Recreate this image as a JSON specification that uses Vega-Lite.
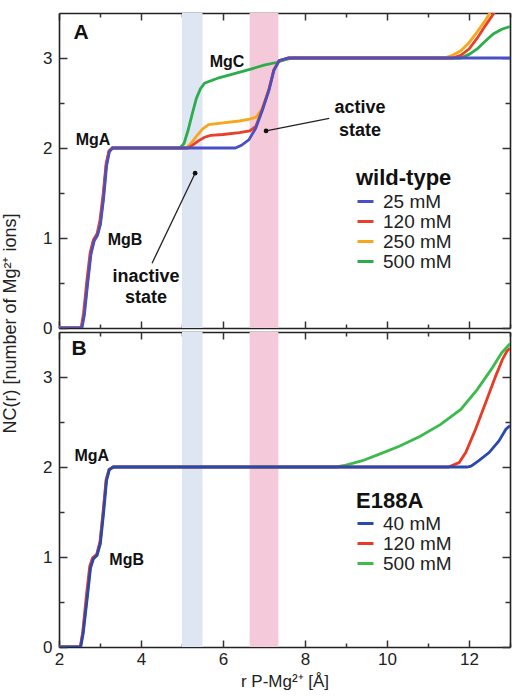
{
  "$schema": "https://vega.github.io/schema/vega-lite/v6.json",
  "background": "white",
  "padding": {"left": 1, "top": 12, "right": 1, "bottom": 2},
  "bounds": "flush",
  "config": {
    "font": "Liberation Sans",
    "view": {"stroke": null},
    "axis": {"grid": false, "domain": false, "labelFont": "Liberation Sans", "labelFontSize": 17, "labelColor": "#222", "titleFont": "Liberation Sans", "titleFontSize": 17, "titleFontWeight": "normal", "titleColor": "#222", "tickColor": "#333", "tickWidth": 1.5, "domainColor": "#222", "domainWidth": 1.6, "labelFlush": false, "labelOverlap": false, "zindex": 1},
    "legend": {"labelFont": "Liberation Sans", "titleFont": "Liberation Sans", "labelColor": "#222", "titleColor": "#111", "padding": 0},
    "text": {"font": "Liberation Sans", "fontWeight": "bold", "color": "#111"}
  },
  "datasets": {
    "bands": [
      {"state": "inactive", "r": 5.0, "r2": 5.5},
      {"state": "active", "r": 6.65, "r2": 7.35}
    ],
    "wt": [
      {"s": "500 mM", "r": 2.0, "nc": 0}, {"s": "500 mM", "r": 2.55, "nc": 0}, {"s": "500 mM", "r": 2.61, "nc": 0.15}, {"s": "500 mM", "r": 2.69, "nc": 0.5}, {"s": "500 mM", "r": 2.77, "nc": 0.82}, {"s": "500 mM", "r": 2.84, "nc": 0.97}, {"s": "500 mM", "r": 2.93, "nc": 1.03}, {"s": "500 mM", "r": 3.0, "nc": 1.15}, {"s": "500 mM", "r": 3.08, "nc": 1.45}, {"s": "500 mM", "r": 3.15, "nc": 1.8}, {"s": "500 mM", "r": 3.22, "nc": 1.96}, {"s": "500 mM", "r": 3.3, "nc": 2.0},
      {"s": "500 mM", "r": 4.95, "nc": 2.0}, {"s": "500 mM", "r": 5.05, "nc": 2.05}, {"s": "500 mM", "r": 5.15, "nc": 2.2}, {"s": "500 mM", "r": 5.25, "nc": 2.38}, {"s": "500 mM", "r": 5.35, "nc": 2.55}, {"s": "500 mM", "r": 5.45, "nc": 2.66}, {"s": "500 mM", "r": 5.55, "nc": 2.72}, {"s": "500 mM", "r": 5.9, "nc": 2.78}, {"s": "500 mM", "r": 6.3, "nc": 2.83}, {"s": "500 mM", "r": 6.7, "nc": 2.88}, {"s": "500 mM", "r": 7.0, "nc": 2.92}, {"s": "500 mM", "r": 7.3, "nc": 2.95}, {"s": "500 mM", "r": 7.5, "nc": 2.98}, {"s": "500 mM", "r": 7.7, "nc": 3.0}, {"s": "500 mM", "r": 11.8, "nc": 3.0}, {"s": "500 mM", "r": 12.0, "nc": 3.04}, {"s": "500 mM", "r": 12.2, "nc": 3.1}, {"s": "500 mM", "r": 12.4, "nc": 3.19}, {"s": "500 mM", "r": 12.6, "nc": 3.27}, {"s": "500 mM", "r": 12.8, "nc": 3.32}, {"s": "500 mM", "r": 13.0, "nc": 3.35},
      {"s": "250 mM", "r": 2.0, "nc": 0}, {"s": "250 mM", "r": 2.55, "nc": 0}, {"s": "250 mM", "r": 2.61, "nc": 0.15}, {"s": "250 mM", "r": 2.69, "nc": 0.5}, {"s": "250 mM", "r": 2.77, "nc": 0.82}, {"s": "250 mM", "r": 2.84, "nc": 0.97}, {"s": "250 mM", "r": 2.93, "nc": 1.03}, {"s": "250 mM", "r": 3.0, "nc": 1.15}, {"s": "250 mM", "r": 3.08, "nc": 1.45}, {"s": "250 mM", "r": 3.15, "nc": 1.8}, {"s": "250 mM", "r": 3.22, "nc": 1.96}, {"s": "250 mM", "r": 3.3, "nc": 2.0},
      {"s": "250 mM", "r": 5.1, "nc": 2.0}, {"s": "250 mM", "r": 5.2, "nc": 2.04}, {"s": "250 mM", "r": 5.35, "nc": 2.13}, {"s": "250 mM", "r": 5.5, "nc": 2.21}, {"s": "250 mM", "r": 5.65, "nc": 2.26}, {"s": "250 mM", "r": 6.0, "nc": 2.28}, {"s": "250 mM", "r": 6.4, "nc": 2.3}, {"s": "250 mM", "r": 6.65, "nc": 2.32}, {"s": "250 mM", "r": 6.8, "nc": 2.34}, {"s": "250 mM", "r": 6.9, "nc": 2.4}, {"s": "250 mM", "r": 6.96, "nc": 2.44}, {"s": "250 mM", "r": 7.12, "nc": 2.65}, {"s": "250 mM", "r": 7.24, "nc": 2.87}, {"s": "250 mM", "r": 7.37, "nc": 2.97}, {"s": "250 mM", "r": 7.6, "nc": 3.0}, {"s": "250 mM", "r": 11.4, "nc": 3.0}, {"s": "250 mM", "r": 11.6, "nc": 3.03}, {"s": "250 mM", "r": 11.8, "nc": 3.08}, {"s": "250 mM", "r": 12.0, "nc": 3.17}, {"s": "250 mM", "r": 12.2, "nc": 3.29}, {"s": "250 mM", "r": 12.4, "nc": 3.42}, {"s": "250 mM", "r": 12.55, "nc": 3.53}, {"s": "250 mM", "r": 12.65, "nc": 3.6},
      {"s": "120 mM", "r": 2.0, "nc": 0}, {"s": "120 mM", "r": 2.54, "nc": 0}, {"s": "120 mM", "r": 2.6, "nc": 0.17}, {"s": "120 mM", "r": 2.68, "nc": 0.53}, {"s": "120 mM", "r": 2.76, "nc": 0.84}, {"s": "120 mM", "r": 2.84, "nc": 0.98}, {"s": "120 mM", "r": 2.93, "nc": 1.05}, {"s": "120 mM", "r": 3.0, "nc": 1.2}, {"s": "120 mM", "r": 3.08, "nc": 1.5}, {"s": "120 mM", "r": 3.15, "nc": 1.83}, {"s": "120 mM", "r": 3.22, "nc": 1.97}, {"s": "120 mM", "r": 3.3, "nc": 2.0},
      {"s": "120 mM", "r": 5.15, "nc": 2.0}, {"s": "120 mM", "r": 5.25, "nc": 2.03}, {"s": "120 mM", "r": 5.4, "nc": 2.08}, {"s": "120 mM", "r": 5.55, "nc": 2.12}, {"s": "120 mM", "r": 5.7, "nc": 2.14}, {"s": "120 mM", "r": 6.0, "nc": 2.15}, {"s": "120 mM", "r": 6.4, "nc": 2.17}, {"s": "120 mM", "r": 6.65, "nc": 2.19}, {"s": "120 mM", "r": 6.8, "nc": 2.24}, {"s": "120 mM", "r": 6.96, "nc": 2.43}, {"s": "120 mM", "r": 7.12, "nc": 2.65}, {"s": "120 mM", "r": 7.24, "nc": 2.87}, {"s": "120 mM", "r": 7.37, "nc": 2.97}, {"s": "120 mM", "r": 7.6, "nc": 3.0}, {"s": "120 mM", "r": 11.6, "nc": 3.0}, {"s": "120 mM", "r": 11.8, "nc": 3.03}, {"s": "120 mM", "r": 12.0, "nc": 3.1}, {"s": "120 mM", "r": 12.2, "nc": 3.22}, {"s": "120 mM", "r": 12.4, "nc": 3.36}, {"s": "120 mM", "r": 12.55, "nc": 3.46}, {"s": "120 mM", "r": 12.7, "nc": 3.56},
      {"s": "25 mM", "r": 2.0, "nc": 0}, {"s": "25 mM", "r": 2.56, "nc": 0}, {"s": "25 mM", "r": 2.62, "nc": 0.15}, {"s": "25 mM", "r": 2.7, "nc": 0.5}, {"s": "25 mM", "r": 2.78, "nc": 0.82}, {"s": "25 mM", "r": 2.86, "nc": 0.97}, {"s": "25 mM", "r": 2.94, "nc": 1.03}, {"s": "25 mM", "r": 3.01, "nc": 1.15}, {"s": "25 mM", "r": 3.09, "nc": 1.45}, {"s": "25 mM", "r": 3.16, "nc": 1.8}, {"s": "25 mM", "r": 3.23, "nc": 1.96}, {"s": "25 mM", "r": 3.31, "nc": 2.0},
      {"s": "25 mM", "r": 6.3, "nc": 2.0}, {"s": "25 mM", "r": 6.45, "nc": 2.03}, {"s": "25 mM", "r": 6.63, "nc": 2.09}, {"s": "25 mM", "r": 6.8, "nc": 2.22}, {"s": "25 mM", "r": 6.96, "nc": 2.42}, {"s": "25 mM", "r": 7.12, "nc": 2.64}, {"s": "25 mM", "r": 7.24, "nc": 2.86}, {"s": "25 mM", "r": 7.37, "nc": 2.97}, {"s": "25 mM", "r": 7.6, "nc": 3.0}, {"s": "25 mM", "r": 13.0, "nc": 3.0}
    ],
    "mut": [
      {"s": "500 mM", "r": 2.0, "nc": 0}, {"s": "500 mM", "r": 2.52, "nc": 0}, {"s": "500 mM", "r": 2.58, "nc": 0.15}, {"s": "500 mM", "r": 2.68, "nc": 0.55}, {"s": "500 mM", "r": 2.76, "nc": 0.88}, {"s": "500 mM", "r": 2.83, "nc": 0.98}, {"s": "500 mM", "r": 2.92, "nc": 1.02}, {"s": "500 mM", "r": 3.0, "nc": 1.15}, {"s": "500 mM", "r": 3.08, "nc": 1.5}, {"s": "500 mM", "r": 3.15, "nc": 1.85}, {"s": "500 mM", "r": 3.22, "nc": 1.97}, {"s": "500 mM", "r": 3.32, "nc": 2.0},
      {"s": "500 mM", "r": 8.76, "nc": 2.0}, {"s": "500 mM", "r": 9.0, "nc": 2.02}, {"s": "500 mM", "r": 9.4, "nc": 2.07}, {"s": "500 mM", "r": 9.8, "nc": 2.14}, {"s": "500 mM", "r": 10.3, "nc": 2.23}, {"s": "500 mM", "r": 10.8, "nc": 2.34}, {"s": "500 mM", "r": 11.3, "nc": 2.47}, {"s": "500 mM", "r": 11.8, "nc": 2.64}, {"s": "500 mM", "r": 12.2, "nc": 2.86}, {"s": "500 mM", "r": 12.55, "nc": 3.09}, {"s": "500 mM", "r": 12.8, "nc": 3.27}, {"s": "500 mM", "r": 13.0, "nc": 3.37},
      {"s": "120 mM", "r": 2.0, "nc": 0}, {"s": "120 mM", "r": 2.52, "nc": 0}, {"s": "120 mM", "r": 2.58, "nc": 0.17}, {"s": "120 mM", "r": 2.67, "nc": 0.58}, {"s": "120 mM", "r": 2.75, "nc": 0.9}, {"s": "120 mM", "r": 2.82, "nc": 0.99}, {"s": "120 mM", "r": 2.92, "nc": 1.03}, {"s": "120 mM", "r": 3.0, "nc": 1.17}, {"s": "120 mM", "r": 3.08, "nc": 1.52}, {"s": "120 mM", "r": 3.15, "nc": 1.86}, {"s": "120 mM", "r": 3.22, "nc": 1.97}, {"s": "120 mM", "r": 3.32, "nc": 2.0},
      {"s": "120 mM", "r": 11.5, "nc": 2.0}, {"s": "120 mM", "r": 11.76, "nc": 2.05}, {"s": "120 mM", "r": 11.92, "nc": 2.16}, {"s": "120 mM", "r": 12.16, "nc": 2.42}, {"s": "120 mM", "r": 12.41, "nc": 2.72}, {"s": "120 mM", "r": 12.65, "nc": 3.01}, {"s": "120 mM", "r": 12.82, "nc": 3.2}, {"s": "120 mM", "r": 12.93, "nc": 3.29}, {"s": "120 mM", "r": 13.0, "nc": 3.32},
      {"s": "40 mM", "r": 2.0, "nc": 0}, {"s": "40 mM", "r": 2.53, "nc": 0}, {"s": "40 mM", "r": 2.59, "nc": 0.15}, {"s": "40 mM", "r": 2.69, "nc": 0.55}, {"s": "40 mM", "r": 2.77, "nc": 0.88}, {"s": "40 mM", "r": 2.84, "nc": 0.98}, {"s": "40 mM", "r": 2.93, "nc": 1.02}, {"s": "40 mM", "r": 3.01, "nc": 1.15}, {"s": "40 mM", "r": 3.09, "nc": 1.5}, {"s": "40 mM", "r": 3.16, "nc": 1.85}, {"s": "40 mM", "r": 3.23, "nc": 1.97}, {"s": "40 mM", "r": 3.33, "nc": 2.0},
      {"s": "40 mM", "r": 11.95, "nc": 2.0}, {"s": "40 mM", "r": 12.05, "nc": 2.01}, {"s": "40 mM", "r": 12.24, "nc": 2.07}, {"s": "40 mM", "r": 12.49, "nc": 2.16}, {"s": "40 mM", "r": 12.73, "nc": 2.29}, {"s": "40 mM", "r": 12.9, "nc": 2.42}, {"s": "40 mM", "r": 13.0, "nc": 2.46}
    ],
    "letterA": [{"r": 2.54, "nc": 3.28, "t": "A"}],
    "letterB": [{"r": 2.49, "nc": 3.31, "t": "B"}],
    "mgA": [{"r": 2.83, "nc": 2.09, "t": "MgA"}, {"r": 3.61, "nc": 0.98, "t": "MgB"}, {"r": 6.1, "nc": 2.96, "t": "MgC"}],
    "mgB": [{"r": 2.8, "nc": 2.12, "t": "MgA"}, {"r": 3.65, "nc": 0.97, "t": "MgB"}],
    "states": [{"r": 4.12, "nc": 0.57, "t": "inactive"}, {"r": 4.12, "nc": 0.33, "t": "state"}, {"r": 9.34, "nc": 2.44, "t": "active"}, {"r": 9.34, "nc": 2.19, "t": "state"}],
    "arrows": [{"r": 4.27, "nc": 0.72, "r2": 5.32, "nc2": 1.72}, {"r": 8.59, "nc": 2.33, "r2": 7.05, "nc2": 2.19}]
  },
  "spacing": 4,
  "resolve": {"scale": {"color": "independent"}},
  "vconcat": [
    {
      "width": 451,
      "height": 315,
      "resolve": {"axis": {"x": "independent", "y": "independent"}},
      "layer": [
        {
          "data": {"name": "bands"},
          "transform": [{"filter": "datum.state == 'inactive'"}],
          "mark": {"type": "rect", "color": "#dfe6f3"},
          "encoding": {
            "x": {"field": "r", "type": "quantitative", "scale": {"domain": [2, 13], "nice": false, "zero": false}, "axis": {"orient": "bottom", "labels": false, "ticks": false, "domain": true, "title": null}},
            "x2": {"field": "r2"},
            "y": {"datum": 0, "type": "quantitative", "scale": {"domain": [0, 3.5], "nice": false, "zero": false}, "axis": {"orient": "left", "values": [0, 1, 2, 3], "ticks": false, "domain": true, "labelPadding": 7, "title": "NC(r) [number of Mg²⁺ ions]", "titleFontSize": 18, "titleX": -40, "titleY": 310, "titleAlign": "center", "titleBaseline": "bottom", "titleAngle": -90}},
            "y2": {"datum": 3.5}
          }
        },
        {
          "data": {"name": "bands"},
          "transform": [{"filter": "datum.state == 'active'"}],
          "mark": {"type": "rect", "color": "#f4c9d9"},
          "encoding": {
            "x": {"field": "r", "type": "quantitative", "axis": {"orient": "bottom", "values": [2, 4, 6, 8, 10, 12], "labels": false, "tickSize": 7, "offset": -7, "title": null}},
            "x2": {"field": "r2"},
            "y": {"datum": 0, "type": "quantitative", "axis": {"orient": "left", "values": [0, 1, 2, 3], "labels": false, "tickSize": 8, "offset": -8, "title": null}},
            "y2": {"datum": 3.5}
          }
        },
        {
          "data": {"name": "wt"},
          "mark": {"type": "line", "strokeWidth": 2.8, "clip": true},
          "encoding": {
            "x": {"field": "r", "type": "quantitative", "axis": {"orient": "bottom", "values": [3, 5, 7, 9, 11, 13], "labels": false, "tickSize": 4, "offset": -4, "title": null}},
            "y": {"field": "nc", "type": "quantitative", "axis": {"orient": "left", "values": [0.5, 1.5, 2.5], "labels": false, "tickSize": 5, "offset": -5, "title": null}},
            "color": {"field": "s", "type": "nominal", "scale": {"domain": ["25 mM", "120 mM", "250 mM", "500 mM"], "range": ["#4b4fc4", "#e8402a", "#f6a81c", "#2aad4a"]}, "legend": {"orient": "none", "legendX": 297, "legendY": 155, "title": "wild-type", "titleFontSize": 22, "titleFontWeight": "bold", "labelFontSize": 19, "symbolType": "stroke", "symbolSize": 256, "symbolStrokeWidth": 3, "labelExpr": "length(datum.label) < 6 ? '\u2007' + datum.label : datum.label", "rowPadding": 0, "titlePadding": 2, "labelOffset": 8}},
            "order": {"field": "r", "type": "quantitative"}
          }
        },
        {
          "data": {"name": "letterA"},
          "mark": {"type": "text", "fontSize": 21, "align": "center", "baseline": "middle"},
          "encoding": {
            "x": {"field": "r", "type": "quantitative", "axis": {"orient": "top", "labels": false, "ticks": false, "domain": true, "title": null}},
            "y": {"field": "nc", "type": "quantitative", "axis": {"orient": "right", "labels": false, "ticks": false, "domain": true, "title": null}},
            "text": {"field": "t"}
          }
        },
        {
          "data": {"name": "mgA"},
          "mark": {"type": "text", "fontSize": 16, "align": "center", "baseline": "middle"},
          "encoding": {
            "x": {"field": "r", "type": "quantitative", "axis": {"orient": "top", "values": [2, 4, 6, 8, 10, 12], "labels": false, "tickSize": 7, "offset": -7, "title": null}},
            "y": {"field": "nc", "type": "quantitative", "axis": {"orient": "right", "values": [0, 1, 2, 3], "labels": false, "tickSize": 8, "offset": -8, "title": null}},
            "text": {"field": "t"}
          }
        },
        {
          "data": {"name": "states"},
          "mark": {"type": "text", "fontSize": 18, "align": "center", "baseline": "middle"},
          "encoding": {
            "x": {"field": "r", "type": "quantitative", "axis": {"orient": "top", "values": [3, 5, 7, 9, 11, 13], "labels": false, "tickSize": 4, "offset": -4, "title": null}},
            "y": {"field": "nc", "type": "quantitative", "axis": {"orient": "right", "values": [0.5, 1.5, 2.5], "labels": false, "tickSize": 5, "offset": -5, "title": null}},
            "text": {"field": "t"}
          }
        },
        {
          "data": {"name": "arrows"},
          "mark": {"type": "rule", "color": "#222", "strokeWidth": 1.3},
          "encoding": {
            "x": {"field": "r", "type": "quantitative", "axis": null},
            "y": {"field": "nc", "type": "quantitative", "axis": null},
            "x2": {"field": "r2"},
            "y2": {"field": "nc2"}
          }
        },
        {
          "data": {"name": "arrows"},
          "mark": {"type": "point", "filled": true, "size": 22, "color": "#111", "opacity": 1},
          "encoding": {
            "x": {"field": "r2", "type": "quantitative", "axis": null},
            "y": {"field": "nc2", "type": "quantitative", "axis": null}
          }
        }
      ]
    },
    {
      "width": 451,
      "height": 315,
      "resolve": {"axis": {"x": "independent", "y": "independent"}},
      "layer": [
        {
          "data": {"name": "bands"},
          "transform": [{"filter": "datum.state == 'inactive'"}],
          "mark": {"type": "rect", "color": "#dfe6f3"},
          "encoding": {
            "x": {"field": "r", "type": "quantitative", "scale": {"domain": [2, 13], "nice": false, "zero": false}, "axis": {"orient": "bottom", "values": [2, 4, 6, 8, 10, 12], "ticks": false, "domain": true, "labelPadding": 4, "title": "r P-Mg²⁺ [Å]", "titlePadding": 6}},
            "x2": {"field": "r2"},
            "y": {"datum": 0, "type": "quantitative", "scale": {"domain": [0, 3.5], "nice": false, "zero": false}, "axis": {"orient": "left", "values": [0, 1, 2, 3], "ticks": false, "domain": true, "labelPadding": 7, "title": null}},
            "y2": {"datum": 3.5}
          }
        },
        {
          "data": {"name": "bands"},
          "transform": [{"filter": "datum.state == 'active'"}],
          "mark": {"type": "rect", "color": "#f4c9d9"},
          "encoding": {
            "x": {"field": "r", "type": "quantitative", "axis": {"orient": "bottom", "values": [2, 4, 6, 8, 10, 12], "labels": false, "tickSize": 7, "offset": -7, "title": null}},
            "x2": {"field": "r2"},
            "y": {"datum": 0, "type": "quantitative", "axis": {"orient": "left", "values": [0, 1, 2, 3], "labels": false, "tickSize": 8, "offset": -8, "title": null}},
            "y2": {"datum": 3.5}
          }
        },
        {
          "data": {"name": "mut"},
          "mark": {"type": "line", "strokeWidth": 2.8, "clip": true},
          "encoding": {
            "x": {"field": "r", "type": "quantitative", "axis": {"orient": "bottom", "values": [3, 5, 7, 9, 11, 13], "labels": false, "tickSize": 4, "offset": -4, "title": null}},
            "y": {"field": "nc", "type": "quantitative", "axis": {"orient": "left", "values": [0.5, 1.5, 2.5], "labels": false, "tickSize": 5, "offset": -5, "title": null}},
            "color": {"field": "s", "type": "nominal", "scale": {"domain": ["40 mM", "120 mM", "500 mM"], "range": ["#2a48ad", "#e83a25", "#3cba4c"]}, "legend": {"orient": "none", "legendX": 297, "legendY": 159, "title": "E188A", "titleFontSize": 22, "titleFontWeight": "bold", "labelFontSize": 19, "symbolType": "stroke", "symbolSize": 256, "symbolStrokeWidth": 3, "labelExpr": "length(datum.label) < 6 ? '\u2007' + datum.label : datum.label", "rowPadding": 0, "titlePadding": 1, "labelOffset": 8}},
            "order": {"field": "r", "type": "quantitative"}
          }
        },
        {
          "data": {"name": "letterB"},
          "mark": {"type": "text", "fontSize": 21, "align": "center", "baseline": "middle"},
          "encoding": {
            "x": {"field": "r", "type": "quantitative", "axis": {"orient": "top", "labels": false, "ticks": false, "domain": true, "title": null}},
            "y": {"field": "nc", "type": "quantitative", "axis": {"orient": "right", "labels": false, "ticks": false, "domain": true, "title": null}},
            "text": {"field": "t"}
          }
        },
        {
          "data": {"name": "mgB"},
          "transform": [{"filter": "datum.t == 'MgA'"}],
          "mark": {"type": "text", "fontSize": 16, "align": "center", "baseline": "middle"},
          "encoding": {
            "x": {"field": "r", "type": "quantitative", "axis": {"orient": "top", "values": [2, 4, 6, 8, 10, 12], "labels": false, "tickSize": 7, "offset": -7, "title": null}},
            "y": {"field": "nc", "type": "quantitative", "axis": {"orient": "right", "values": [0, 1, 2, 3], "labels": false, "tickSize": 8, "offset": -8, "title": null}},
            "text": {"field": "t"}
          }
        },
        {
          "data": {"name": "mgB"},
          "transform": [{"filter": "datum.t == 'MgB'"}],
          "mark": {"type": "text", "fontSize": 16, "align": "center", "baseline": "middle"},
          "encoding": {
            "x": {"field": "r", "type": "quantitative", "axis": {"orient": "top", "values": [3, 5, 7, 9, 11, 13], "labels": false, "tickSize": 4, "offset": -4, "title": null}},
            "y": {"field": "nc", "type": "quantitative", "axis": {"orient": "right", "values": [0.5, 1.5, 2.5], "labels": false, "tickSize": 5, "offset": -5, "title": null}},
            "text": {"field": "t"}
          }
        }
      ]
    }
  ]
}
